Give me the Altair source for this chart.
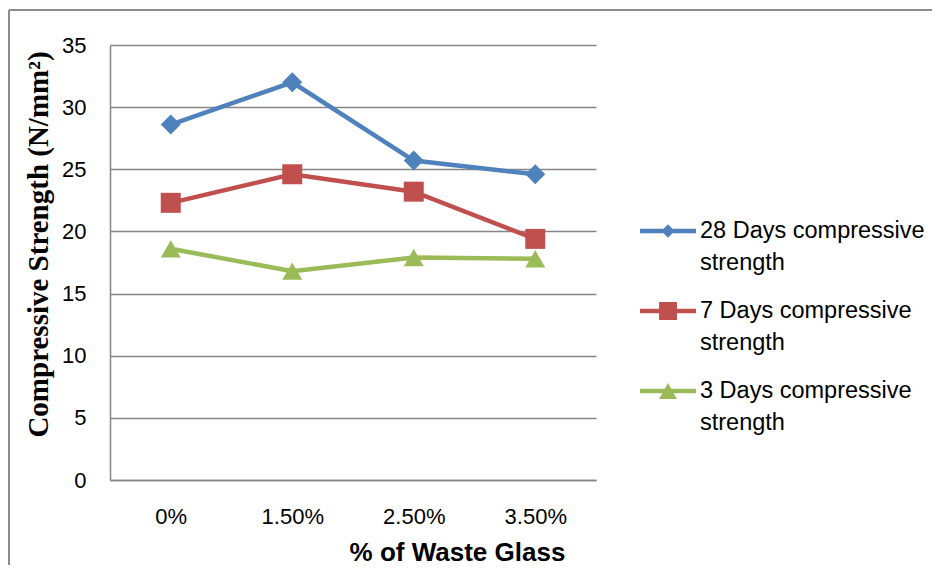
import altair as alt
import pandas as pd

# ---------------- data ----------------
categories = ["0%", "1.50%", "2.50%", "3.50%"]
series_names = [
    "28 Days compressive strength",
    "7 Days compressive strength",
    "3 Days compressive strength",
]
days28 = [28.6, 32.0, 25.7, 24.6]
days7 = [22.3, 24.6, 23.2, 19.4]
days3 = [18.6, 16.8, 17.9, 17.8]
y_ticks = [0, 5, 10, 15, 20, 25, 30, 35]

colors = ["#4F81BD", "#C0504D", "#9BBB59"]
marker_shapes = ["diamond", "square", "triangle-up"]

rows = []
for name, vals in zip(series_names, [days28, days7, days3]):
    for c, v in zip(categories, vals):
        rows.append({"glass": c, "series": name, "strength": v})
df = pd.DataFrame(rows)

# ---------------- legend symbols (line + marker) ----------------
T = 0.08     # half thickness of the line stroke in symbol units


def poly(points):
    return "M" + " L".join(f"{x:.3f},{y:.3f}" for x, y in points) + " Z"


d = 0.24
diamond_path = poly([(-1, -T), (-d + T, -T), (0, -d), (d - T, -T), (1, -T), (1, T),
                     (d - T, T), (0, d), (-d + T, T), (-1, T)])
s = 0.32
square_path = poly([(-1, -T), (-s, -T), (-s, -s), (s, -s), (s, -T), (1, -T), (1, T),
                    (s, T), (s, s), (-s, s), (-s, T), (-1, T)])
w, h = 0.32, 0.29
xa = -w * (h - T) / (2 * h)
xb = -w * (h + T) / (2 * h)
triangle_path = poly([(-1, -T), (xa, -T), (0, -h), (-xa, -T), (1, -T), (1, T),
                      (-xb, T), (w, h), (-w, h), (xb, T), (-1, T)])
legend_paths = [diamond_path, square_path, triangle_path]

x_enc = alt.X(
    "glass:N",
    sort=categories,
    scale=alt.Scale(domain=categories),
    axis=alt.Axis(
        title="% of Waste Glass",
        titleFont="Liberation Sans",
        titleFontSize=26,
        titleFontWeight="bold",
        titleColor="#000000",
        titleX=347,
        titleY=80,
        titleBaseline="alphabetic",
        titleAlign="center",
        labelFont="Liberation Sans",
        labelFontSize=22,
        labelColor="#000000",
        labelAngle=0,
        labelPadding=26,
        ticks=False,
        tickSize=0,
        grid=False,
        domain=True,
        domainColor="#868686",
        domainWidth=1.5,
    ),
)
y_enc = alt.Y(
    "strength:Q",
    scale=alt.Scale(domain=[0, 35], nice=False),
    axis=alt.Axis(
        title="Compressive Strength (N/mm²)",
        titleFont="Liberation Serif",
        titleFontSize=29,
        titleFontWeight="bold",
        titleColor="#000000",
        titleX=-63,
        titleY=199,
        titleAngle=270,
        titleBaseline="alphabetic",
        titleAlign="center",
        values=y_ticks,
        labelFont="Liberation Sans",
        labelFontSize=22,
        labelColor="#000000",
        labelPadding=24,
        ticks=False,
        tickSize=0,
        grid=True,
        gridColor="#868686",
        gridWidth=1.5,
        domain=True,
        domainColor="#868686",
        domainWidth=1.5,
    ),
)

common_leg = dict(
    title=None,
    orient="none",
    legendX=530,
    direction="vertical",
    symbolSize=3136,
    symbolStrokeWidth=0,
    labelFont="Liberation Sans",
    labelFontSize=23.5,
    labelColor="#000000",
    labelOffset=4,
    labelLimit=400,
    labelBaseline="middle",
    padding=0,
)
# first line of each legend label, with the line+marker symbol
leg_a = dict(common_leg, legendY=158, rowPadding=40, symbolOpacity=1,
             labelExpr="replace(datum.label, ' strength', '')")
# second line of each legend label, without a visible symbol
leg_b = dict(common_leg, legendY=190, rowPadding=24, symbolOpacity=0,
             symbolFillColor="transparent", symbolStrokeColor="transparent",
             labelExpr="'strength'")

base = alt.Chart(df)
layers = []
for name, col in zip(series_names, colors):
    layers.append(
        base.transform_filter(alt.datum.series == name)
        .mark_line(strokeWidth=4.5, color=col)
        .encode(x=x_enc, y=y_enc)
    )
for name, col, shp in zip(series_names, colors, marker_shapes):
    layers.append(
        base.transform_filter(alt.datum.series == name)
        .mark_point(filled=True, opacity=1, size=400, shape=shp, strokeWidth=0, color=col)
        .encode(x=x_enc, y=y_enc)
    )

legend_layer = base.mark_point(filled=True, opacity=0, size=3136).encode(
    x=x_enc,
    y=y_enc,
    color=alt.Color(
        "series:N",
        scale=alt.Scale(domain=series_names, range=colors),
        legend=alt.Legend(**leg_a),
    ),
    shape=alt.Shape(
        "series:N",
        scale=alt.Scale(domain=series_names, range=legend_paths),
        legend=alt.Legend(**leg_a),
    ),
)
legend_layer_b = (
    base.transform_calculate(series_b="datum.series")
    .mark_point(filled=True, opacity=0, size=10)
    .encode(
        x=x_enc,
        y=y_enc,
        strokeDash=alt.StrokeDash("series_b:N", sort=series_names, legend=alt.Legend(**leg_b)),
    )
)

frame_data = alt.Data(values=[{"k": 1}])
frame_left = alt.Chart(frame_data).mark_rule(color="#8c8c8c", strokeWidth=2).encode(
    x=alt.value(-101), y=alt.value(-35), y2=alt.value(530)
)
frame_top = alt.Chart(frame_data).mark_rule(color="#8c8c8c", strokeWidth=2).encode(
    x=alt.value(-101), x2=alt.value(830), y=alt.value(-35)
)

chart = (
    alt.layer(frame_left, frame_top, *layers, legend_layer, legend_layer_b)
    .properties(
        width=486,
        height=435,
        padding={"left": 102, "top": 37, "right": 336, "bottom": 85},
        autosize=alt.AutoSizeParams(type="none"),
        background="#ffffff",
    )
    .configure_view(stroke="transparent")
)

chart.save("out.html", embed_options={"renderer": "svg", "actions": False})
